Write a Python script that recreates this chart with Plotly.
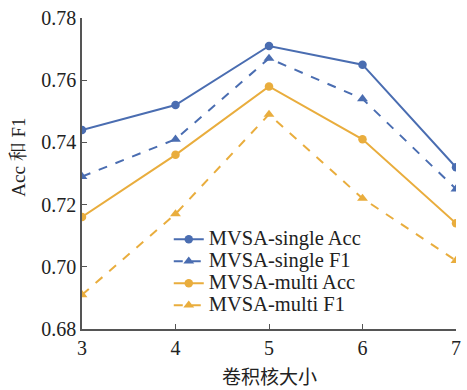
import plotly.graph_objects as go

kernel_sizes = [3, 4, 5, 6, 7]
single_acc = [0.744, 0.752, 0.771, 0.765, 0.732]
single_f1 = [0.729, 0.741, 0.767, 0.754, 0.725]
multi_acc = [0.716, 0.736, 0.758, 0.741, 0.714]
multi_f1 = [0.691, 0.717, 0.749, 0.722, 0.702]

series_names = ["MVSA-single Acc", "MVSA-single F1", "MVSA-multi Acc", "MVSA-multi F1"]
y_ticks = [0.68, 0.70, 0.72, 0.74, 0.76, 0.78]

BLUE = "#4a6db1"
ORANGE = "#e9ad3d"
SERIF = "Liberation Serif, Times New Roman, Noto Serif CJK SC, Noto Sans CJK SC, serif"
CJK = "Noto Sans CJK SC, sans-serif"

styles = [
    (single_acc, BLUE, "solid", "circle", 8.5),
    (single_f1, BLUE, "dash", "triangle-up", 9.5),
    (multi_acc, ORANGE, "solid", "circle", 8.5),
    (multi_f1, ORANGE, "dash", "triangle-up", 9.5),
]

fig = go.Figure()
for name, (vals, color, dash, sym, size) in zip(series_names, styles):
    fig.add_trace(go.Scatter(
        x=kernel_sizes, y=vals, mode="lines+markers",
        # legend rows stay compact while the label text is drawn larger
        name=f'<span style="font-size:20.5px">{name}</span>',
        line=dict(color=color, width=2, dash=dash),
        marker=dict(color=color, symbol=sym, size=size),
    ))

axis_common = dict(
    showline=True, linecolor="#555555", linewidth=1.5,
    ticks="inside", ticklen=5, tickcolor="#555555", tickwidth=1.2,
    showgrid=False, zeroline=False,
    tickfont=dict(family=SERIF, size=20, color="#222222"),
    mirror=False,
)

fig.update_layout(
    width=467, height=390,
    margin=dict(l=82, r=6, t=18, b=61),
    paper_bgcolor="white", plot_bgcolor="white",
    xaxis=dict(range=[3, 7], tickvals=kernel_sizes, **axis_common),
    yaxis=dict(range=[0.68, 0.78], tickvals=y_ticks, tickformat=".2f", **axis_common),
    legend=dict(
        x=0.232, y=0.34, xanchor="left", yanchor="top",
        bgcolor="rgba(0,0,0,0)", tracegroupgap=0,
        font=dict(family=SERIF, size=14.6, color="#222222"),
        itemwidth=30,
    ),
    annotations=[
        dict(text="卷积核大小", x=0.5, y=-0.148, xref="paper", yref="paper",
             xanchor="center", yanchor="middle", showarrow=False,
             font=dict(family=CJK, size=19, color="#222222")),
        dict(text="Acc 和 F1", x=-0.172, y=0.553, xref="paper", yref="paper",
             xanchor="center", yanchor="middle", showarrow=False, textangle=-90,
             font=dict(family=SERIF, size=19, color="#222222")),
    ],
)

fig.write_html("out.html")
